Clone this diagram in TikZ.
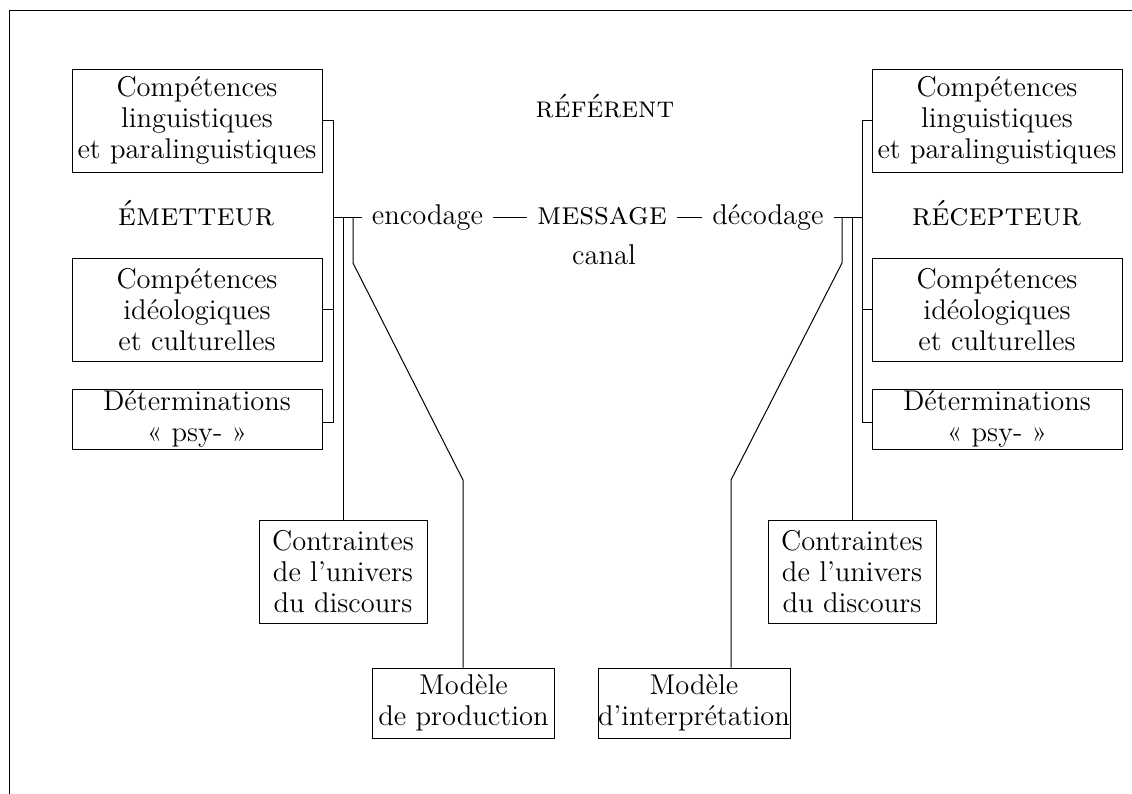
\documentclass[tikz,border=0pt]{standalone}
\begin{document}
\begin{tikzpicture}[x=0.42pt,y=-0.42pt,
  every node/.style={font=\fontsize{12}{12.9}\selectfont},
  bigbox/.style={draw,rectangle,align=center,inner sep=0pt,minimum width=105pt,minimum height=43.26pt},
  smallbox/.style={draw,rectangle,align=center,inner sep=0pt,minimum width=105pt,minimum height=25.2pt},
  conbox/.style={draw,rectangle,align=center,inner sep=0pt,minimum width=70.56pt,minimum height=43.26pt},
  lbl/.style={anchor=base,inner sep=4pt},
  caps/.style={anchor=base,inner sep=4pt,font=\fontsize{13.6}{14}\selectfont},
  line/.style={draw,line width=0.42pt}]
\useasboundingbox (0,0) rectangle (1132,794);
% frame
\draw[line] (1140,11) -- (9,11) -- (9,800);

% left side
\node[bigbox] (aL) at (197,120.5) {Compétences\\linguistiques\\et paralinguistiques};
\node[caps] (emet) at (196,226) {\textsc{émetteur}};
\node[bigbox] (bL) at (197,309.5) {Compétences\\idéologiques\\et culturelles};
\node[smallbox] (cL) at (197,419) {Déterminations\\« psy- »};
\node[conbox] (conL) at (343,571.5) {Contraintes\\de l’univers\\du discours};
\node[draw,rectangle,align=center,inner sep=0pt,minimum width=76.44pt,minimum height=29.4pt] (modL) at (463.5,703) {Modèle\\de production};

% right side
\node[bigbox] (aR) at (997,120.5) {Compétences\\linguistiques\\et paralinguistiques};
\node[caps] (recep) at (996.5,226) {\textsc{récepteur}};
\node[bigbox] (bR) at (997,309.5) {Compétences\\idéologiques\\et culturelles};
\node[smallbox] (cR) at (997,419) {Déterminations\\« psy- »};
\node[conbox] (conR) at (852,571.5) {Contraintes\\de l’univers\\du discours};
\node[draw,rectangle,align=center,inner sep=0pt,minimum width=70.56pt,minimum height=29.4pt] (modR) at (694,703) {Modèle\\d’interprétation};

% centre
\node[lbl,font=\fontsize{12.6}{13}\selectfont] (refer) at (605,118) {\textsc{référent}};
\node[lbl] (enc) at (427.5,225) {encodage};
\node[caps] (msg) at (602,225) {\textsc{message}};
\node[lbl] (dec) at (768,225) {décodage};
\node[lbl] (canal) at (604,265) {canal};

% junction coordinates
\coordinate (jL) at (333,218);
\coordinate (busLb) at (333,423);
\coordinate (jL1) at (343,218);
\coordinate (jL2) at (353,218);
\coordinate (kL1) at (353,263);
\coordinate (kL2) at (463,480);

\coordinate (jR) at (862,218);
\coordinate (busRb) at (862,423);
\coordinate (jR1) at (852,218);
\coordinate (jR2) at (842,218);
\coordinate (kR1) at (842,263);
\coordinate (kR2) at (731,480);

% left connectors
\draw[line] (aL.east) -| (busLb) -- (cL.east |- busLb);
\draw[line] (bL.east) -- (bL.east -| busLb);
\draw[line] (jL) -- (jL -| enc.west);
\draw[line] (jL1) -- (conL.north);
\draw[line] (jL2) -- (kL1) -- (kL2) -- (kL2 |- modL.north);

% right connectors
\draw[line] (aR.west) -| (busRb) -- (cR.west |- busRb);
\draw[line] (bR.west) -- (bR.west -| busRb);
\draw[line] (jR) -- (jR -| dec.east);
\draw[line] (jR1) -- (conR.north);
\draw[line] (jR2) -- (kR1) -- (kR2) -- (kR2 |- modR.north);

% dashes around message
\draw[line] (enc.east |- jL) -- (msg.west |- jL);
\draw[line] (msg.east |- jL) -- (dec.west |- jL);
\end{tikzpicture}
\end{document}
